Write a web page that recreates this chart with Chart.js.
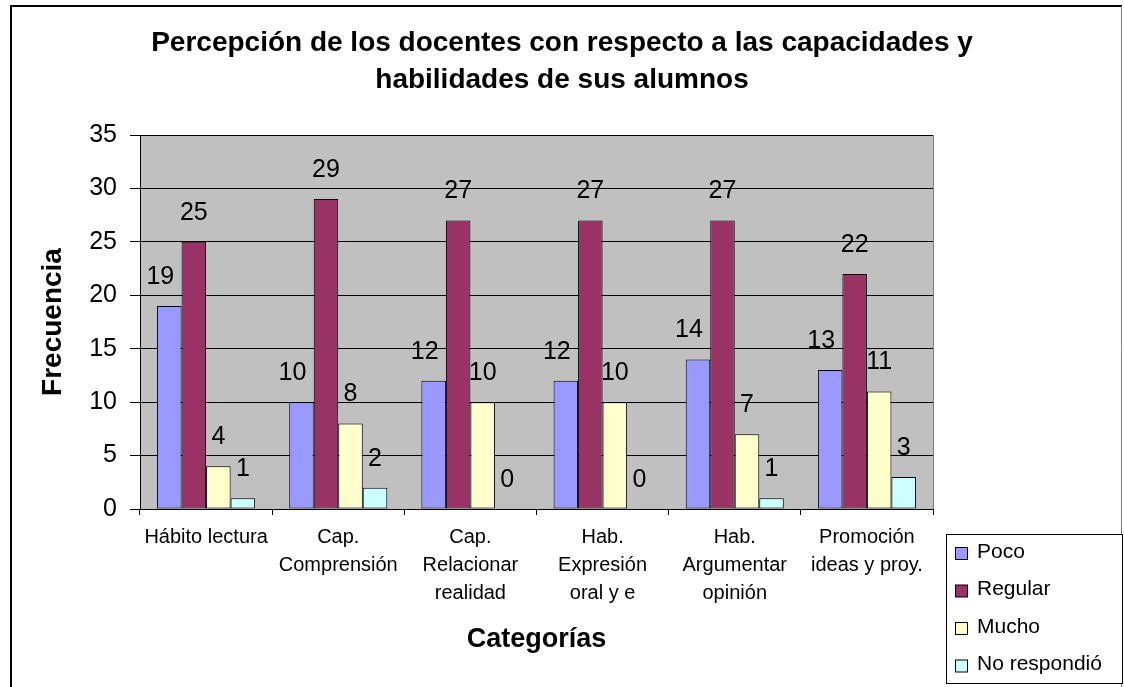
<!DOCTYPE html>
<html>
<head>
<meta charset="utf-8">
<script src="https://cdn.jsdelivr.net/npm/chart.js@4"></script>
<style>
  html, body { margin: 0; padding: 0; background: #fff; }
  #wrap { width: 1124px; height: 687px; }
</style>
</head>
<body>
<div id="wrap"><canvas id="mycanvas" width="1124" height="687"></canvas></div>
<script>
var titulo = ['Percepción de los docentes con respecto a las capacidades y', 'habilidades de sus alumnos'];
var categorias = [
  ["Hábito lectura"],
  ["Cap.", "Comprensión"],
  ["Cap.", "Relacionar", "realidad"],
  ["Hab.", "Expresión", "oral y e"],
  ["Hab.", "Argumentar", "opinión"],
  ["Promoción", "ideas y proy."]
];
var poco = [19, 10, 12, 12, 14, 13];
var regular = [25, 29, 27, 27, 27, 22];
var mucho = [4, 8, 10, 10, 7, 11];
var noRespondio = [1, 2, 0, 0, 1, 3];
var yTicks = [0, 5, 10, 15, 20, 25, 30, 35];

var FONT = "'Liberation Sans', Arial, sans-serif";

// fondo gris del area de trazado
var plotBg = {
  id: 'plotBg',
  beforeDraw: function(chart) {
    var a = chart.chartArea, c = chart.ctx;
    c.save();
    c.fillStyle = '#C0C0C0';
    c.fillRect(a.left, a.top, a.right - a.left, a.bottom - a.top);
    c.strokeStyle = '#808080';
    c.lineWidth = 1;
    c.beginPath();
    c.moveTo(a.right + 0.5, a.top);
    c.lineTo(a.right + 0.5, a.bottom);
    c.stroke();
    c.restore();
  }
};

// etiquetas de valor encima de cada barra
var labelShift = [-9, 0, 0, 0];
var valueLabels = {
  id: 'valueLabels',
  afterDatasetsDraw: function(chart) {
    var c = chart.ctx;
    c.save();
    c.font = '25px ' + FONT;
    c.fillStyle = '#000';
    c.textAlign = 'center';
    c.textBaseline = 'middle';
    chart.data.datasets.forEach(function(ds, i) {
      var meta = chart.getDatasetMeta(i);
      meta.data.forEach(function(bar, j) {
        c.fillText(String(ds.data[j]), bar.x + labelShift[i], bar.y - 29);
      });
    });
    c.restore();
  }
};

// titulo centrado en todo el lienzo, marco exterior y leyenda
var frameLegend = {
  id: 'frameLegend',
  afterDraw: function(chart) {
    var c = chart.ctx;
    c.save();
    c.font = 'bold 28px ' + FONT;
    c.fillStyle = '#000';
    c.textAlign = 'center';
    c.textBaseline = 'middle';
    titulo.forEach(function(line, i) {
      c.fillText(line, chart.width / 2, 43 + i * 37);
    });

    c.strokeStyle = '#000';
    c.lineWidth = 2;
    c.beginPath();
    c.moveTo(11, 687);
    c.lineTo(11, 6);
    c.lineTo(1122, 6);
    c.stroke();
    c.strokeStyle = '#808080';
    c.lineWidth = 1;
    c.beginPath();
    c.moveTo(1121.5, 6);
    c.lineTo(1121.5, 687);
    c.stroke();

    c.fillStyle = '#fff';
    c.fillRect(946, 534, 177, 150);
    c.strokeStyle = '#000';
    c.lineWidth = 1;
    c.strokeRect(946.5, 534.5, 176, 149);

    c.font = '21px ' + FONT;
    c.textAlign = 'left';
    chart.data.datasets.forEach(function(ds, i) {
      var y = 551 + i * 37.5;
      c.fillStyle = ds.backgroundColor;
      c.fillRect(955.5, y - 3.5, 12, 12);
      c.strokeStyle = '#000';
      c.strokeRect(955.5, y - 3.5, 12, 12);
      c.fillStyle = '#000';
      c.fillText(ds.label, 977, y + 1);
    });
    c.restore();
  }
};

function barSet(label, data, color) {
  return {
    label: label,
    data: data,
    backgroundColor: color,
    borderColor: '#000',
    borderWidth: 1,
    borderSkipped: false,
    categoryPercentage: 0.742,
    barPercentage: 1
  };
}

var chartdata = {
  labels: categorias,
  datasets: [
    barSet('Poco', poco, '#9999FF'),
    barSet('Regular', regular, '#993366'),
    barSet('Mucho', mucho, '#FFFFCC'),
    barSet('No respondió', noRespondio, '#CCFFFF')
  ]
};

var ctx = document.getElementById('mycanvas');
var barGraph = new Chart(ctx, {
  type: 'bar',
  data: chartdata,
  plugins: [plotBg, valueLabels, frameLegend],
  options: {
    responsive: false,
    animation: false,
    layout: { padding: { left: 12, top: 135, right: 191, bottom: 10 } },
    plugins: {
      legend: { display: false },
      tooltip: { enabled: false },
      title: { display: false }
    },
    scales: {
      x: {
        grid: { display: true, drawOnChartArea: false, drawTicks: true, tickLength: 6, color: '#000', offset: true },
        border: { display: true, color: '#000', width: 1 },
        ticks: {
          color: '#000', padding: 8, maxRotation: 0, autoSkip: false,
          font: { family: FONT, size: 20, lineHeight: 1.4 }
        },
        title: {
          display: true, text: 'Categorías', color: '#000',
          font: { family: FONT, size: 27, weight: 'bold' },
          padding: { top: 0, bottom: 21 }
        },
        afterFit: function(scale) { scale.height = 168; }
      },
      y: {
        min: 0,
        max: 35,
        afterBuildTicks: function(scale) {
          scale.ticks = yTicks.map(function(v) { return { value: v }; });
        },
        grid: { color: '#000', lineWidth: 1, drawTicks: true, tickLength: 10 },
        border: { display: true, color: '#000', width: 1 },
        ticks: {
          color: '#000', padding: 13,
          font: { family: FONT, size: 25 }
        },
        title: {
          display: true, text: 'Frecuencia', color: '#000',
          font: { family: FONT, size: 28, weight: 'bold' },
          padding: { top: 24, bottom: 0 }
        },
        afterFit: function(scale) { scale.width = 128; }
      }
    }
  }
});
</script>
</body>
</html>
